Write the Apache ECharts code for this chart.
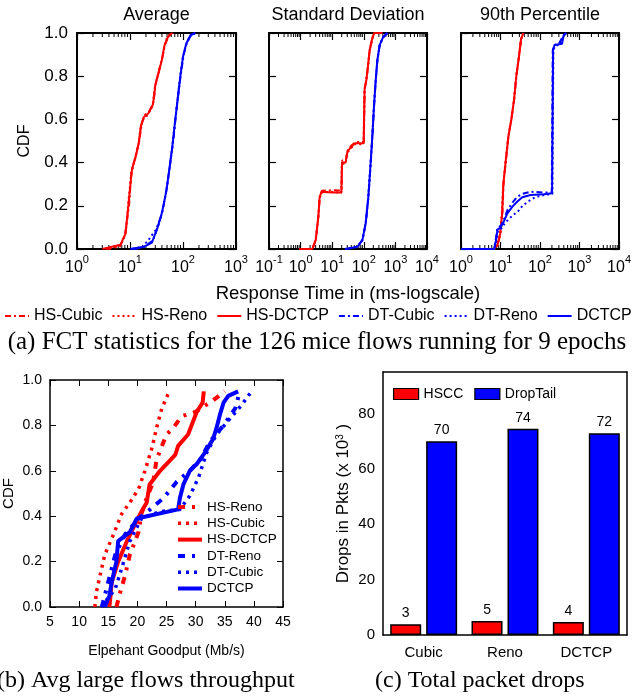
<!DOCTYPE html>
<html><head><meta charset="utf-8">
<script src="https://cdn.jsdelivr.net/npm/echarts@6/dist/echarts.min.js"></script>
<style>html,body{margin:0;padding:0;background:#fff}#c{width:634px;height:698px}</style>
</head><body><div id="c"></div><script>
// ---------- (a) FCT statistics ----------
const fctTitles = ['Average', 'Standard Deviation', '90th Percentile'];
const fctXMin = [1, 0.1, 1];
const fctXMax = [1000, 10000, 10000];
const fctNames = ['HS-Cubic', 'HS-Reno', 'HS-DCTCP', 'DT-Cubic', 'DT-Reno', 'DCTCP'];

const avgHsCubic = [[3.5,0],[6.4,0.01],[8.0,0.06],[9.6,0.2],[10.4,0.33],[11.3,0.38],[13.0,0.44],[15.0,0.5],[16.6,0.58],[19.0,0.62],[23.5,0.64],[27.8,0.68],[30.8,0.77],[35.5,0.83],[41.0,0.89],[46,0.95],[55,0.99],[65,1.0]];
const avgHsReno = [[4,0],[6.8,0.02],[8.4,0.08],[9.3,0.22],[10.0,0.29],[10.6,0.36],[12.2,0.41],[14.4,0.48],[15.8,0.56],[17.6,0.6],[21.5,0.62],[26.5,0.66],[29.5,0.75],[34.2,0.81],[39.5,0.87],[44,0.93],[50,0.98],[60,1.0]];
const avgHsDctcp = [[3.0,0],[6.6,0.02],[8.2,0.07],[9.4,0.21],[10.2,0.30],[10.9,0.37],[12.6,0.42],[14.6,0.49],[16.1,0.57],[18.1,0.61],[22.5,0.63],[27.2,0.67],[30.1,0.76],[34.9,0.82],[40.3,0.88],[44.5,0.94],[51.5,0.98],[62,1.0]];
const avgDtCubic = [[12,0],[19,0.01],[27,0.04],[34.5,0.11],[41.5,0.18],[50,0.29],[57.5,0.4],[65.5,0.5],[73.5,0.62],[82,0.72],[91,0.81],[103,0.9],[118,0.955],[142,0.99],[175,1.0]];
const avgDtReno = [[11,0],[17,0.01],[22,0.04],[31,0.09],[38.5,0.15],[47,0.25],[55,0.36],[62.5,0.47],[70,0.58],[79,0.69],[87.5,0.79],[98,0.88],[112,0.94],[135,0.985],[168,1.0]];
const avgDctcp = [[10.1,0],[18.1,0.01],[26,0.03],[33.2,0.10],[40.3,0.17],[48.6,0.27],[56,0.38],[64,0.49],[71.6,0.60],[80.6,0.71],[89.2,0.80],[100,0.89],[115,0.95],[138,0.99],[171,1.0]];

const sdHsCubic = [[0.95,0],[2.4,0],[3.1,0.05],[3.7,0.16],[4.1,0.25],[4.8,0.27],[10,0.272],[19.8,0.27],[20.6,0.41],[27,0.41],[30.5,0.455],[38,0.475],[53,0.495],[100,0.495],[107,0.745],[121,0.785],[140,0.865],[155,0.925],[188,0.98],[220,1.0],[390,1.0]];
const sdHsReno = [[0.9,0],[2.3,0],[2.95,0.04],[3.6,0.14],[3.95,0.23],[4.5,0.26],[9,0.265],[19.3,0.26],[20.2,0.395],[26.5,0.395],[29.8,0.445],[38.8,0.465],[52,0.485],[98,0.485],[105,0.735],[119,0.775],[138,0.855],[151,0.915],[184,0.97],[212,1.0],[390,1.0]];
const sdHsDctcp = [[0.89,0],[2.35,0],[3.0,0.04],[3.64,0.15],[4.0,0.24],[4.6,0.265],[10.1,0.262],[19.5,0.262],[20.4,0.40],[26.7,0.40],[30.1,0.45],[38.4,0.47],[52.7,0.49],[99,0.49],[106,0.74],[120,0.78],[139,0.86],[153,0.92],[186,0.975],[215,1.0],[390,1.0]];
const sdDtCubic = [[28,0],[63,0.01],[92,0.045],[117,0.125],[141,0.245],[167,0.405],[188,0.525],[212,0.665],[240,0.785],[272,0.88],[322,0.948],[410,0.982],[560,1.0]];
const sdDtReno = [[25,0],[60,0.01],[88,0.035],[113,0.115],[137,0.235],[163,0.395],[184,0.515],[208,0.655],[236,0.775],[266,0.87],[315,0.94],[400,0.978],[550,1.0]];
const sdDctcp = [[26.7,0],[62,0.01],[90,0.04],[115,0.12],[139,0.24],[165,0.40],[186,0.52],[210,0.66],[238,0.78],[269,0.875],[318,0.944],[405,0.98],[556,1.0]];

const p90HsCubic = [[1,0],[7.1,0],[8.6,0.02],[10,0.075],[11.2,0.17],[12.0,0.31],[13.9,0.42],[16.1,0.53],[19.2,0.61],[22.4,0.70],[25.6,0.81],[29.8,0.9],[33.6,0.975],[38.5,1.0]];
const p90HsReno = [[1,0],[6.7,0],[8.2,0.02],[9.6,0.065],[10.8,0.16],[11.6,0.29],[13.3,0.40],[15.5,0.51],[18.4,0.59],[21.6,0.68],[24.6,0.79],[28.8,0.88],[32.4,0.965],[37,1.0]];
const p90HsDctcp = [[1,0],[6.9,0],[8.4,0.02],[9.8,0.07],[11.0,0.165],[11.8,0.30],[13.6,0.41],[15.8,0.52],[18.8,0.60],[22,0.69],[25.1,0.80],[29.3,0.89],[33,0.97],[37.7,1.0]];
const p90DtCubic = [[1,0],[6.8,0],[7.6,0.045],[8.3,0.095],[10.3,0.11],[12.5,0.14],[15,0.18],[20,0.215],[26,0.24],[35,0.255],[56,0.265],[120,0.262],[198,0.262],[210,0.92],[230,0.945],[300,0.95],[380,0.985],[455,1.0]];
const p90DtReno = [[1,0],[7,0],[7.8,0.035],[8.6,0.085],[10.5,0.095],[13,0.12],[16.5,0.14],[22,0.16],[28,0.175],[36,0.2],[50,0.22],[75,0.24],[130,0.25],[205,0.255],[218,0.92],[240,0.94],[330,0.948],[400,0.99],[470,1.0]];
const p90Dctcp = [[1,0],[6.9,0],[7.7,0.04],[8.4,0.09],[10.1,0.10],[12.3,0.13],[14.9,0.165],[20,0.196],[26.7,0.22],[35.6,0.24],[57.7,0.25],[125,0.253],[202,0.258],[214,0.92],[232,0.944],[361,0.95],[398,0.99],[464,1.0]];

const fctData = [
  [avgHsCubic, avgHsReno, avgHsDctcp, avgDtCubic, avgDtReno, avgDctcp],
  [sdHsCubic, sdHsReno, sdHsDctcp, sdDtCubic, sdDtReno, sdDctcp],
  [p90HsCubic, p90HsReno, p90HsDctcp, p90DtCubic, p90DtReno, p90Dctcp]
];

// ---------- (b) elephant goodput CDF ----------
const gpNames = ['HS-Reno', 'HS-Cubic', 'HS-DCTCP', 'DT-Reno', 'DT-Cubic', 'DCTCP'];
const gpHsReno = [[16.4,0],[17.0,0.06],[17.9,0.14],[18.7,0.23],[20.2,0.33],[20.7,0.41],[21.6,0.48],[22.7,0.55],[23.3,0.65],[25.0,0.76],[26.2,0.79],[27.6,0.84],[30.0,0.86],[33.0,0.91],[35.0,0.95]];
const gpHsCubic = [[12.7,0],[13.0,0.07],[13.6,0.14],[14.4,0.23],[15.9,0.32],[17.3,0.41],[18.7,0.46],[20.2,0.52],[21.3,0.60],[22.5,0.70],[23.3,0.79],[24.2,0.875],[25.3,0.94]];
const gpHsDctcp = [[15.2,0],[15.6,0.11],[16.7,0.20],[18.2,0.29],[19.9,0.38],[20.7,0.42],[21.6,0.46],[22.1,0.54],[23.9,0.60],[26.5,0.67],[27.0,0.71],[28.7,0.76],[30.2,0.86],[31.2,0.90],[31.4,0.95]];
const gpDtReno = [[13.9,0],[15.0,0.11],[16.2,0.23],[17.9,0.32],[20.2,0.39],[22.2,0.43],[24.5,0.48],[26.7,0.55],[29.0,0.60],[30.8,0.65],[32.5,0.73],[34.8,0.80],[36.8,0.875],[37.6,0.95]];
const gpDtCubic = [[13.8,0],[16.2,0.08],[17.3,0.17],[18.7,0.29],[20.7,0.39],[23.9,0.42],[27.3,0.43],[29.0,0.49],[30.5,0.57],[31.0,0.61],[31.9,0.68],[33.6,0.76],[35.9,0.83],[37.9,0.89],[39.6,0.95]];
const gpDctcp = [[14.4,0],[15.2,0.05],[15.6,0.11],[16.4,0.20],[16.7,0.29],[18.7,0.33],[19.9,0.39],[27.0,0.43],[27.3,0.48],[27.9,0.54],[29.0,0.60],[30.2,0.63],[31.6,0.68],[33.0,0.74],[33.6,0.79],[34.2,0.85],[34.8,0.90],[35.6,0.93],[37.3,0.95]];
const gpData = [gpHsReno, gpHsCubic, gpHsDctcp, gpDtReno, gpDtCubic, gpDctcp];

// ---------- (c) total packet drops ----------
const dropCategories = ['Cubic', 'Reno', 'DCTCP'];
const dropHSCC = [3.9, 5.1, 4.7];
const dropDropTail = [70.0, 74.5, 72.9];

// ---------- styling ----------
const SANS = "'Liberation Sans', Arial, sans-serif";
const NARROW = "'Liberation Sans Narrow', 'Liberation Sans', Arial, sans-serif";
const SERIF = "'Liberation Serif', 'Times New Roman', serif";
const RED = '#ff0000', BLUE = '#0000ff';
const DASHDOT = [6, 3, 2, 3], DOT = [2, 3];
const fctStyle = {
  'HS-Cubic': { color: RED, type: DASHDOT }, 'HS-Reno': { color: RED, type: DOT }, 'HS-DCTCP': { color: RED, type: 'solid' },
  'DT-Cubic': { color: BLUE, type: DASHDOT }, 'DT-Reno': { color: BLUE, type: DOT }, 'DCTCP': { color: BLUE, type: 'solid' }
};
const gpStyle = {
  'HS-Reno': { color: RED, type: [7, 7, 3, 7], width: 4 }, 'HS-Cubic': { color: RED, type: [3, 5], width: 3.5 }, 'HS-DCTCP': { color: RED, type: 'solid', width: 4 },
  'DT-Reno': { color: BLUE, type: [7, 7, 3, 7], width: 4 }, 'DT-Cubic': { color: BLUE, type: [3, 5], width: 3.5 }, 'DCTCP': { color: BLUE, type: 'solid', width: 4 }
};

const topGrids = [
  { left: 77, top: 33, width: 159, height: 216 },
  { left: 269, top: 33, width: 158, height: 216 },
  { left: 461, top: 33, width: 159, height: 216 }
];

const grid = topGrids.concat([
  { left: 50, top: 380, width: 233, height: 227 },
  { left: 383, top: 372, width: 244, height: 263 }
]);

const frameLine = { show: true, onZero: false, lineStyle: { color: '#000', width: 2 } };
const xAxis = [], yAxis = [], series = [];

function logLabel(v) {
  const e = Math.round(Math.log10(v));
  return '{b|10}{s|' + e + '}';
}

topGrids.forEach((g, i) => {
  const base = { type: 'log', logBase: 10, gridIndex: i, min: fctXMin[i], max: fctXMax[i], splitLine: { show: false }, axisLine: frameLine,
    axisTick: { inside: true, length: 7, lineStyle: { color: '#000', width: 1.2 } } };
  xAxis.push(Object.assign({}, base, {
    position: 'bottom',
    axisLabel: { formatter: logLabel, margin: 5, color: '#000', fontFamily: SANS,
      rich: { b: { fontSize: 16, fontFamily: SANS, color: '#000', lineHeight: 22, verticalAlign: 'bottom' },
              s: { fontSize: 11, fontFamily: SANS, color: '#000', lineHeight: 12, verticalAlign: 'top' } } },
    name: i === 1 ? 'Response Time in (ms-logscale)' : '', nameLocation: 'middle', nameGap: 35,
    nameTextStyle: { fontSize: 18.5, fontFamily: SANS, color: '#000' }
  }));
  xAxis.push(Object.assign({}, base, {
    position: 'top', axisLabel: { show: false },
    name: fctTitles[i], nameLocation: 'middle', nameGap: 9,
    nameTextStyle: { fontSize: 18, fontFamily: SANS, color: '#000' }
  }));
  const ybase = { type: 'value', gridIndex: i, min: 0, max: 1, interval: 0.2, splitLine: { show: false }, axisLine: frameLine,
    axisTick: { inside: true, length: 7, lineStyle: { color: '#000', width: 1.2 } } };
  yAxis.push(Object.assign({}, ybase, {
    position: 'left',
    axisLabel: { show: i === 0, formatter: v => v.toFixed(1), fontSize: 17, fontFamily: SANS, color: '#000', margin: 9 },
    name: i === 0 ? 'CDF' : '', nameLocation: 'middle', nameGap: 44, nameRotate: 90,
    nameTextStyle: { fontSize: 16, fontFamily: SANS, color: '#000' }
  }));
  yAxis.push(Object.assign({}, ybase, { position: 'right', axisLabel: { show: false } }));

  fctNames.forEach((n, k) => {
    series.push({ name: n, type: 'line', xAxisIndex: 2 * i, yAxisIndex: 2 * i, data: fctData[i][k],
      showSymbol: false, symbol: 'none', smooth: false, silent: true, animation: false,
      lineStyle: { color: fctStyle[n].color, type: fctStyle[n].type, width: 2 }, itemStyle: { color: fctStyle[n].color } });
  });

  // minor log ticks drawn through the axis scale
  const minor = [];
  for (let e = Math.round(Math.log10(fctXMin[i])); e < Math.round(Math.log10(fctXMax[i])); e++)
    for (let m = 2; m <= 9; m++) minor.push([m * Math.pow(10, e), 0]);
  series.push({ name: 'minor', type: 'custom', xAxisIndex: 2 * i, yAxisIndex: 2 * i, data: minor, silent: true, animation: false, clip: false,
    renderItem: (params, api) => {
      const pb = api.coord([api.value(0), 0]);
      const pt = api.coord([api.value(0), 1]);
      return { type: 'group', children: [
        { type: 'line', shape: { x1: pb[0], y1: pb[1], x2: pb[0], y2: pb[1] - 4 }, style: { stroke: '#000', lineWidth: 1 } },
        { type: 'line', shape: { x1: pt[0], y1: pt[1], x2: pt[0], y2: pt[1] + 4 }, style: { stroke: '#000', lineWidth: 1 } }
      ] };
    } });
});

// (b)
const thin = { show: true, onZero: false, lineStyle: { color: '#000', width: 1.5 } };
const tickB = { inside: true, length: 6, lineStyle: { color: '#000', width: 1 } };
xAxis.push({ type: 'value', gridIndex: 3, min: 5, max: 45, interval: 5, position: 'bottom', splitLine: { show: false }, axisLine: thin, axisTick: tickB,
  axisLabel: { fontSize: 14, fontFamily: SANS, color: '#000', margin: 8 },
  name: 'Elpehant Goodput (Mb/s)', nameLocation: 'middle', nameGap: 37, nameTextStyle: { fontSize: 14, fontFamily: SANS, color: '#000' } });
xAxis.push({ type: 'value', gridIndex: 3, min: 5, max: 45, interval: 5, position: 'top', splitLine: { show: false }, axisLine: thin, axisTick: tickB, axisLabel: { show: false } });
yAxis.push({ type: 'value', gridIndex: 3, min: 0, max: 1, interval: 0.2, position: 'left', splitLine: { show: false }, axisLine: thin, axisTick: tickB,
  axisLabel: { formatter: v => v.toFixed(1), fontSize: 14, fontFamily: SANS, color: '#000', margin: 8 },
  name: 'CDF', nameLocation: 'middle', nameGap: 34, nameRotate: 90, nameTextStyle: { fontSize: 15, fontFamily: SANS, color: '#000' } });
yAxis.push({ type: 'value', gridIndex: 3, min: 0, max: 1, interval: 0.2, position: 'right', splitLine: { show: false }, axisLine: thin, axisTick: tickB, axisLabel: { show: false } });
gpNames.forEach((n, k) => {
  const s = gpStyle[n];
  series.push({ name: n, type: 'line', xAxisIndex: 6, yAxisIndex: 6, data: gpData[k], showSymbol: false, symbol: 'none', silent: true, animation: false,
    lineStyle: { color: s.color, type: s.type, width: s.width }, itemStyle: { color: s.color } });
});

// (c)
xAxis.push({ type: 'category', gridIndex: 4, data: dropCategories, position: 'bottom', axisLine: thin, axisTick: { show: false },
  axisLabel: { fontSize: 15, fontFamily: NARROW, color: '#000', margin: 10 } });
xAxis.push({ type: 'category', gridIndex: 4, data: dropCategories, position: 'top', axisLine: thin, axisTick: { show: false }, axisLabel: { show: false } });
yAxis.push({ type: 'value', gridIndex: 4, min: 0, max: 95, interval: 20, position: 'left', splitLine: { show: false }, axisLine: thin,
  axisTick: { inside: true, length: 6, lineStyle: { color: '#000', width: 1 } },
  axisLabel: { formatter: v => (v % 20 === 0 ? String(v) : ''), fontSize: 15, fontFamily: NARROW, color: '#000', margin: 8 },
  name: 'Drops in Pkts (x 10{s|3} )', nameLocation: 'middle', nameGap: 31, nameRotate: 90,
  nameTextStyle: { fontSize: 17, fontFamily: NARROW, color: '#000', rich: { s: { fontSize: 10, fontFamily: NARROW, color: '#000', verticalAlign: 'top', lineHeight: 10 } } } });
yAxis.push({ type: 'value', gridIndex: 4, min: 0, max: 95, position: 'right', splitLine: { show: false }, axisLine: thin, axisTick: { show: false }, axisLabel: { show: false } });
const barLabel = { show: true, position: 'top', distance: 4, fontSize: 14, fontFamily: NARROW, color: '#000', formatter: p => String(Math.floor(p.value)) };
series.push({ name: 'HSCC', type: 'bar', xAxisIndex: 8, yAxisIndex: 8, data: dropHSCC, barWidth: 31, barGap: '16%', silent: true, animation: false,
  itemStyle: { color: RED, borderColor: '#000', borderWidth: 1.5 }, label: barLabel });
series.push({ name: 'DropTail', type: 'bar', xAxisIndex: 8, yAxisIndex: 8, data: dropDropTail, barWidth: 31, barGap: '16%', silent: true, animation: false,
  itemStyle: { color: BLUE, borderColor: '#000', borderWidth: 1.5 }, label: barLabel });

const hideSymbol = { opacity: 0, borderWidth: 0 };
const legend = [
  { data: fctNames, left: 4, top: 308, itemWidth: 24, itemHeight: 12, itemGap: 9, padding: 0, selectedMode: false, itemStyle: hideSymbol,
    textStyle: { fontSize: 16, fontFamily: SANS, color: '#000' } },
  { data: gpNames.map(n => ({ name: n, lineStyle: { color: gpStyle[n].color, type: gpStyle[n].type, width: gpStyle[n].width } })),
    orient: 'vertical', left: 176, top: 500, itemWidth: 24, itemHeight: 13, itemGap: 2.3, padding: 0, selectedMode: false, itemStyle: hideSymbol,
    textStyle: { fontSize: 13.5, fontFamily: SANS, color: '#000' } },
  { data: ['HSCC', 'DropTail'], left: 393, top: 387, itemWidth: 25, itemHeight: 11, itemGap: 11, padding: 0, icon: 'rect', selectedMode: false,
    itemStyle: { borderColor: '#000', borderWidth: 1.2 },
    textStyle: { fontSize: 14, fontFamily: NARROW, color: '#000' } }
];

const graphic = [
  { type: 'text', left: 'center', top: 330, style: { text: '(a) FCT statistics for the 126 mice flows running for 9 epochs', font: '25px ' + SERIF, fill: '#000' } },
  { type: 'text', left: -3, top: 669, style: { text: '(b) Avg large flows throughput', font: '24px ' + SERIF, fill: '#000' } },
  { type: 'text', left: 375, top: 669, style: { text: '(c) Total packet drops', font: '24px ' + SERIF, fill: '#000' } }
];

const chart = echarts.init(document.getElementById('c'), null, { renderer: 'canvas' });
chart.setOption({ animation: false, backgroundColor: '#fff', grid, xAxis, yAxis, series, legend, graphic });
</script></body></html>
